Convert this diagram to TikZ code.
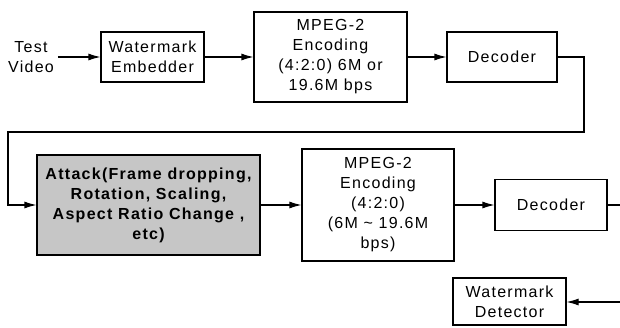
\documentclass[tikz,border=0pt]{standalone}
\usepackage{fontspec}
\setmainfont{Liberation Sans}[LetterSpace=8]
\usetikzlibrary{arrows.meta}

\begin{document}
\begin{tikzpicture}[
  x=1pt, y=-1pt,
  font=\fontsize{16}{20}\selectfont,
  >={Latex[length=12pt,width=7pt]},
  line width=1.1pt,
  blk/.style={draw, align=center, inner sep=2pt},
  atk/.style={draw, fill=gray!45, align=center, inner sep=2pt, font=\fontsize{16}{20}\selectfont\bfseries},
]
\useasboundingbox (0,0) rectangle (620,327);
% Upper row
\node[align=center] (test) at (31,57) {Test\\Video};
\node[blk, minimum width=103pt, minimum height=50pt] (embed) at (152.5,57) {Watermark\\Embedder};
\node[blk, minimum width=153pt, minimum height=90pt] (enc1) at (330.5,57) {MPEG-2\\Encoding\\(4:2:0) 6M or\\19.6M bps};
\node[blk, minimum width=110pt, minimum height=50pt] (dec1) at (502,57) {Decoder};
\draw[->] (test) -- (embed);
\draw[->] (embed) -- (enc1);
\draw[->] (enc1) -- (dec1);
% Lower row
\node[atk, minimum width=223pt, minimum height=100pt] (attack) at (148.5,205) {Attack(Frame dropping,\\Rotation, Scaling,\\Aspect Ratio Change ,\\etc)};
\node[blk, minimum width=152pt, minimum height=112pt] (enc2) at (378,205) {MPEG-2\\Encoding\\(4:2:0)\\(6M \textasciitilde{} 19.6M\\bps)};
\node[blk, minimum width=112pt, minimum height=51pt] (dec2) at (551,205) {Decoder};
\node[blk, minimum width=113pt, minimum height=47pt] (det) at (509.5,301.5) {Watermark\\Detector};
% Feedback and loose ends
\coordinate (turnR) at (584,132);
\coordinate (turnL) at (8,132);
\coordinate (outR) at (620,205);
\coordinate (inR) at (620,302);
\draw[->] (dec1.east) -| (turnR) -- (turnL) |- (attack.west);
\draw[->] (attack) -- (enc2);
\draw[->] (enc2) -- (dec2);
\draw (dec2.east) -- (outR);
\draw[->] (inR) -- (det.east |- inR);
\end{tikzpicture}
\end{document}
